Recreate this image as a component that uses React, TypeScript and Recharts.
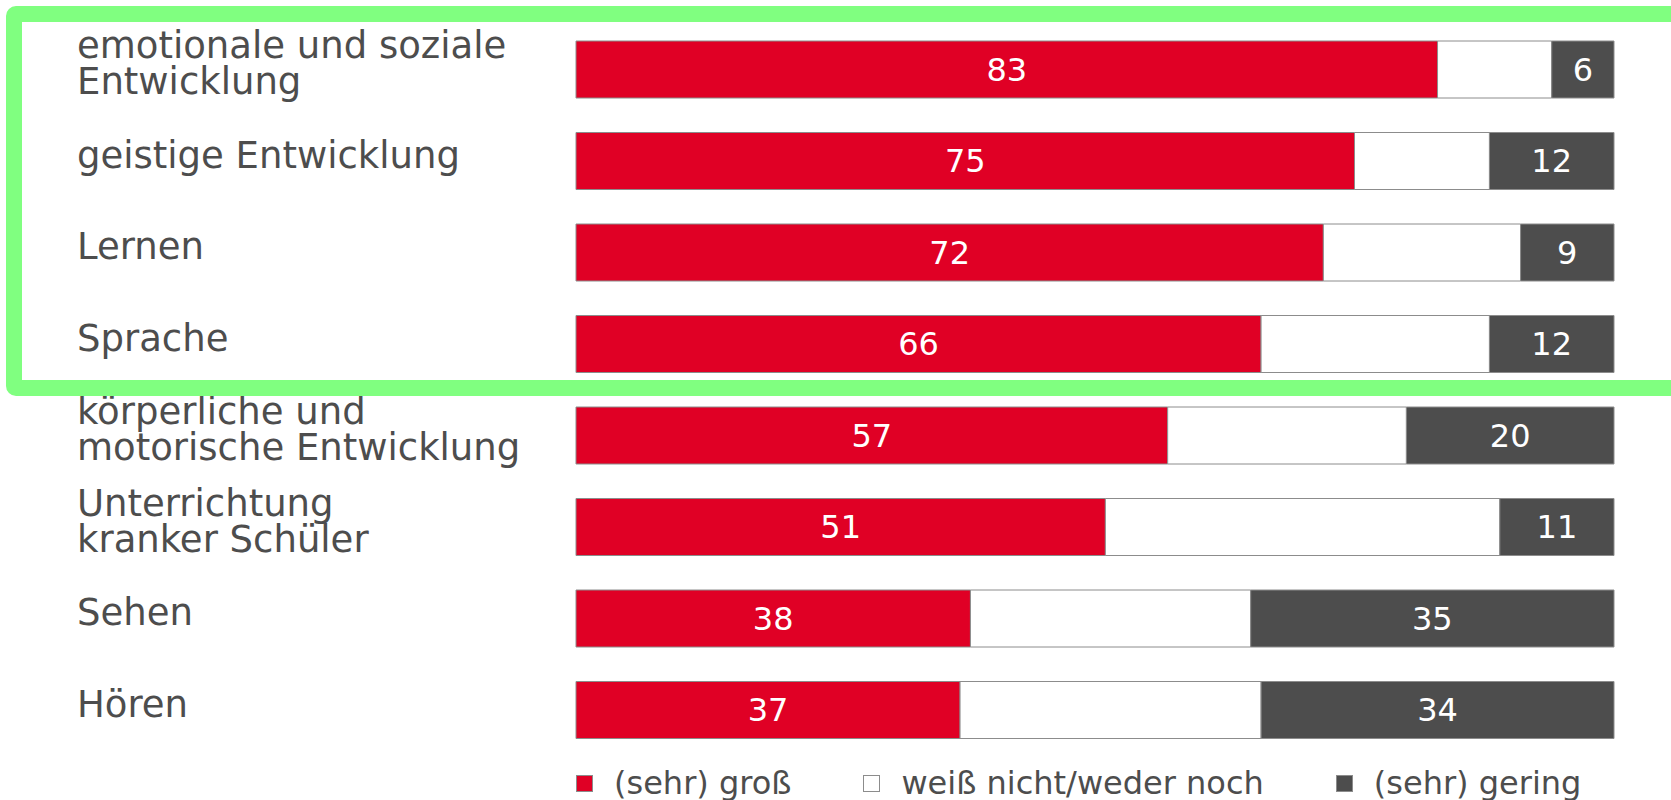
import React from "react";
import { BarChart, Bar, XAxis, YAxis, LabelList } from "recharts";

const categories = [
  "emotionale und soziale\nEntwicklung",
  "geistige Entwicklung",
  "Lernen",
  "Sprache",
  "körperliche und\nmotorische Entwicklung",
  "Unterrichtung\nkranker Schüler",
  "Sehen",
  "Hören",
];
const gross = [83, 75, 72, 66, 57, 51, 38, 37];
const neutral = [11, 13, 19, 22, 23, 38, 27, 29];
const gering = [6, 12, 9, 12, 20, 11, 35, 34];
const seriesNames = ["(sehr) groß", "weiß nicht/weder noch", "(sehr) gering"];

const RED = "#E00025";
const DARK = "#4D4D4D";
const TEXT = "#4D4D4D";
const FONT = "'DejaVu Sans', Verdana, sans-serif";

const data = categories.map((c, i) => ({
  name: c,
  gross: gross[i],
  neutral: neutral[i],
  gering: gering[i],
}));

const CategoryTick = (props: any) => {
  const { y, payload } = props;
  const lines = String(payload.value).split("\n");
  const n = lines.length;
  return (
    <g>
      {lines.map((line: string, i: number) => (
        <text
          key={i}
          x={77}
          y={y - 7 + (i - (n - 1) / 2) * 36 + 13.5}
          fill={TEXT}
          fontSize={37}
          fontFamily={FONT}
          textAnchor="start"
        >
          {line}
        </text>
      ))}
    </g>
  );
};

const legendColors = [RED, "#FFFFFF", DARK];

const LegendBlock = () => (
  <div
    style={{
      position: "absolute",
      left: 576,
      top: 764,
      height: 38,
      display: "flex",
      alignItems: "center",
      fontFamily: FONT,
      fontSize: 32,
      color: TEXT,
      whiteSpace: "nowrap",
      lineHeight: "38px",
    }}
  >
    {seriesNames.map((s, i) => (
      <div
        key={s}
        style={{ display: "flex", alignItems: "center", marginRight: 72 }}
      >
        <div
          style={{
            width: 15,
            height: 15,
            background: legendColors[i],
            border: "1px solid #8c8c8c",
            marginRight: 21,
          }}
        />
        <span>{s}</span>
      </div>
    ))}
  </div>
);

export default function App() {
  return (
    <div
      style={{
        position: "absolute",
        left: 0,
        top: 0,
        width: 1671,
        height: 800,
        background: "#fff",
        overflow: "hidden",
      }}
    >
      <BarChart
        width={1671}
        height={800}
        data={data}
        layout="vertical"
        margin={{ top: 24, right: 57, bottom: 44, left: 0 }}
      >
        <XAxis type="number" domain={[0, 100]} hide />
        <YAxis
          type="category"
          dataKey="name"
          width={576}
          axisLine={false}
          tickLine={false}
          tick={<CategoryTick />}
          interval={0}
        />
        <Bar
          dataKey="gross"
          stackId="a"
          fill={RED}
          stroke="#8c8c8c"
          strokeWidth={1}
          barSize={57}
          isAnimationActive={false}
        >
          <LabelList
            dataKey="gross"
            position="center"
            fill="#fff"
            fontSize={32}
            fontFamily={FONT}
          />
        </Bar>
        <Bar
          dataKey="neutral"
          stackId="a"
          fill="#FFFFFF"
          stroke="#8c8c8c"
          strokeWidth={1}
          barSize={57}
          isAnimationActive={false}
        />
        <Bar
          dataKey="gering"
          stackId="a"
          fill={DARK}
          stroke="#8c8c8c"
          strokeWidth={1}
          barSize={57}
          isAnimationActive={false}
        >
          <LabelList
            dataKey="gering"
            position="center"
            fill="#fff"
            fontSize={32}
            fontFamily={FONT}
          />
        </Bar>
      </BarChart>
      <LegendBlock />
      <div
        style={{
          position: "absolute",
          left: 6,
          top: 6,
          width: 1690,
          height: 390,
          boxSizing: "border-box",
          border: "16px solid #80FF80",
          borderRadius: 10,
          pointerEvents: "none",
        }}
      />
    </div>
  );
}
